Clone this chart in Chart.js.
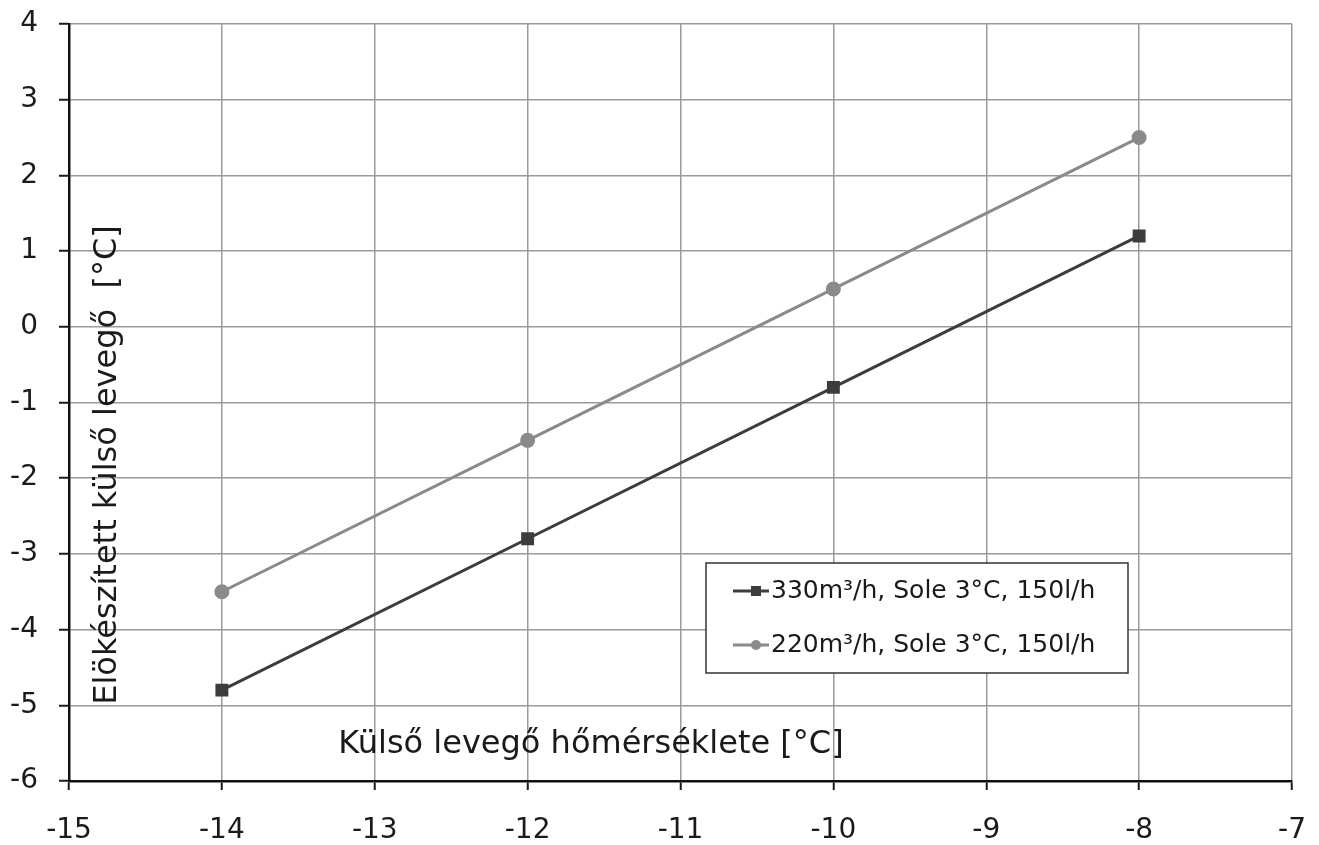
<!DOCTYPE html>
<html>
<head>
<meta charset="utf-8">
<script src="https://cdn.jsdelivr.net/npm/chart.js@4.4.0/dist/chart.umd.min.js"></script>
<style>
html,body{margin:0;padding:0;background:#fff;}
#wrap{width:1319px;height:845px;position:relative;}
</style>
</head>
<body>
<div id="wrap"><canvas id="c" width="1319" height="845"></canvas></div>
<script>
const xValues = [-14, -12, -10, -8];
const series330 = [-4.8, -2.8, -0.8, 1.2];
const series220 = [-3.5, -1.5, 0.5, 2.5];
const seriesLabels = ["330m³/h, Sole 3°C, 150l/h", "220m³/h, Sole 3°C, 150l/h"];
const xTitle = "Külső levegő hőmérséklete [°C]";
const yTitle = "Elökészített külső levegő  [°C]";
const xMin = -15, xMax = -7, yMin = -6, yMax = 4;

const FONT = "'DejaVu Sans', sans-serif";

const innerTitles = {
  id: 'innerTitles',
  afterDatasetsDraw(chart) {
    const ctx = chart.ctx;
    ctx.save();
    ctx.fillStyle = '#1a1a1a';
    ctx.font = "32px " + FONT;
    ctx.textAlign = 'center';
    ctx.textBaseline = 'middle';
    ctx.fillText(xTitle, 591, 745);
    ctx.translate(108, 465);
    ctx.rotate(-Math.PI / 2);
    ctx.fillText(yTitle, 0, 0);
    ctx.restore();

    // legend box
    ctx.save();
    const bx = 706, by = 563, bw = 422, bh = 110;
    ctx.fillStyle = '#fff';
    ctx.fillRect(bx, by, bw, bh);
    ctx.strokeStyle = '#333';
    ctx.lineWidth = 1.5;
    ctx.strokeRect(bx, by, bw, bh);
    const rows = [591, 645];
    chart.data.datasets.forEach((ds, i) => {
      const y = rows[i];
      ctx.strokeStyle = ds.borderColor;
      ctx.lineWidth = 3;
      ctx.beginPath();
      ctx.moveTo(733, y);
      ctx.lineTo(769, y);
      ctx.stroke();
      ctx.fillStyle = ds.backgroundColor;
      if (ds.pointStyle === 'rect') {
        ctx.fillRect(756 - 5, y - 5, 10, 10);
      } else {
        ctx.beginPath();
        ctx.arc(756, y, 5, 0, Math.PI * 2);
        ctx.fill();
      }
      ctx.fillStyle = '#1a1a1a';
      ctx.font = "25px " + FONT;
      ctx.textAlign = 'left';
      ctx.textBaseline = 'middle';
      ctx.fillText(ds.label, 771, y);
    });
    ctx.restore();
  }
};

new Chart(document.getElementById('c'), {
  type: 'line',
  data: {
    datasets: [
      {
        label: seriesLabels[0],
        data: xValues.map((x, i) => ({x: x, y: series330[i]})),
        borderColor: '#3c3c3c',
        backgroundColor: '#3c3c3c',
        borderWidth: 3,
        pointStyle: 'rect',
        pointRadius: 7,
        pointHoverRadius: 7,
        tension: 0
      },
      {
        label: seriesLabels[1],
        data: xValues.map((x, i) => ({x: x, y: series220[i]})),
        borderColor: '#8a8a8a',
        backgroundColor: '#8a8a8a',
        borderWidth: 3,
        pointStyle: 'circle',
        pointRadius: 6,
        pointHoverRadius: 6,
        tension: 0
      }
    ]
  },
  options: {
    responsive: false,
    animation: false,
    devicePixelRatio: 1,
    layout: { padding: { left: 0, right: 27, top: 24, bottom: 0 } },
    plugins: { legend: { display: false }, tooltip: { enabled: false } },
    scales: {
      x: {
        type: 'linear',
        min: xMin, max: xMax,
        ticks: { stepSize: 1, color: '#1a1a1a', font: { family: FONT, size: 28 }, padding: 24, maxRotation: 0 },
        grid: { color: '#9a9a9a', lineWidth: 1.5, tickLength: 9, tickColor: '#1a1a1a', tickWidth: 2 },
        border: { color: '#111', width: 2.5 },
        afterFit(scale) { scale.height = 845 - 781; scale.paddingLeft = 0; scale.paddingRight = 0; }
      },
      y: {
        type: 'linear',
        min: yMin, max: yMax,
        ticks: { stepSize: 1, color: '#1a1a1a', font: { family: FONT, size: 28 }, padding: 21 },
        grid: { color: '#9a9a9a', lineWidth: 1.5, tickLength: 10, tickColor: '#1a1a1a', tickWidth: 2 },
        border: { color: '#111', width: 2.5 },
        afterFit(scale) { scale.width = 69; scale.paddingTop = 0; scale.paddingBottom = 0; }
      }
    }
  },
  plugins: [innerTitles]
});
</script>
</body>
</html>
